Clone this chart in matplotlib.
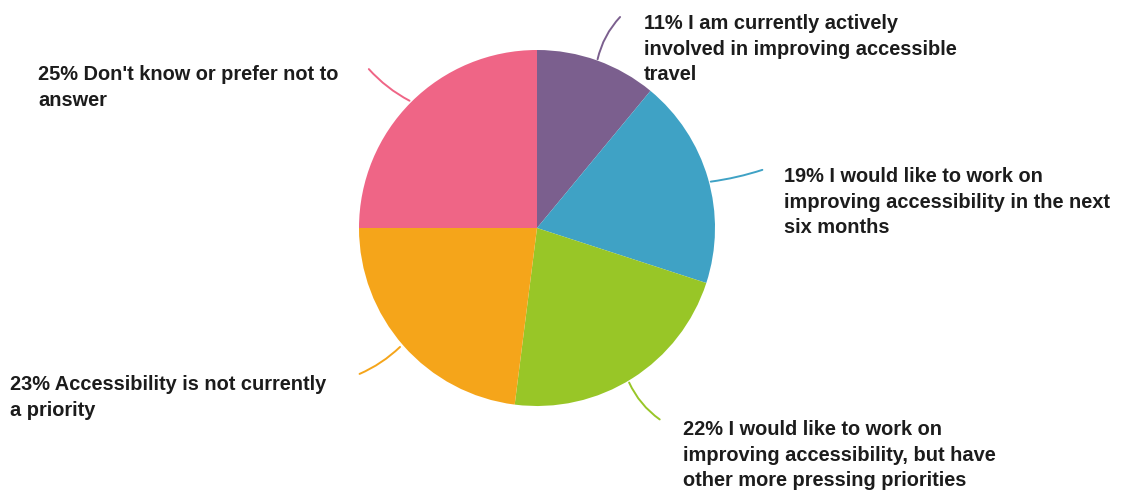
import matplotlib.pyplot as plt

# survey answers, clockwise from twelve o'clock
shares = [11, 19, 22, 23, 25]
answers = [
    "I am currently actively\ninvolved in improving accessible\ntravel",
    "I would like to work on\nimproving accessibility in the next\nsix months",
    "I would like to work on\nimproving accessibility, but have\nother more pressing priorities",
    "Accessibility is not currently\na priority",
    "Don't know or prefer not to\nanswer",
]
colors = ["#7b5f8e", "#3fa2c5", "#98c627", "#f5a51a", "#ef6586"]

W, H = 1123, 493
fig = plt.figure(figsize=(W / 100, H / 100), dpi=100)
ax = fig.add_axes([0, 0, 1, 1])

cx, cy, r = 537, H - 228, 178
ax.pie(shares, colors=colors, startangle=90, counterclock=False,
       center=(cx, cy), radius=r, frame=True,
       wedgeprops=dict(linewidth=0))
ax.set_xlim(0, W)
ax.set_ylim(0, H)
ax.set_aspect("equal")
ax.axis("off")

# label anchor (left edge, first-line top in pixels from top) and leader line ends
label_pos = [(644, 14), (784, 167), (683, 420), (10, 375), (38, 65)]
leaders = [
    ((597, 62), (622, 15), -0.15),
    ((708, 182), (765, 169), 0.05),
    ((628, 380), (662, 421), 0.15),
    ((402, 345), (357, 375), -0.1),
    ((412, 102), (367, 67), -0.1),
]

for share, text, col, (lx, ly), (p0, p1, rad) in zip(shares, answers, colors, label_pos, leaders):
    ax.text(lx, H - ly, f"{share}% {text}", ha="left", va="top",
            fontsize=14.4, fontweight="bold", color="#1c1c1c",
            family="Liberation Sans", linespacing=1.44)
    ax.annotate("", xy=(p1[0], H - p1[1]), xytext=(p0[0], H - p0[1]),
                arrowprops=dict(arrowstyle="-", color=col, lw=1.4,
                                connectionstyle=f"arc3,rad={rad}"))

fig.savefig("out.png", dpi=100)
